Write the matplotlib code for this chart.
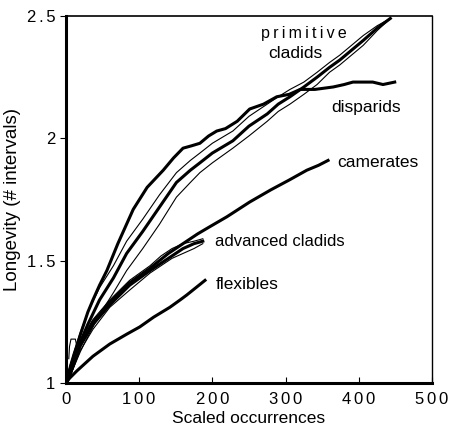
import matplotlib.pyplot as plt

plt.rcParams['font.family'] = ['Liberation Sans', 'DejaVu Sans']

# disparids
disp_x = [0, 5, 10, 20, 30, 37, 46, 56, 71, 92, 111, 133, 147, 160, 172, 183, 195, 206,
          218, 234, 251, 270, 288, 305, 320, 340, 365, 380, 392, 405, 419, 433, 449]
disp_y = [1.0, 1.05, 1.10, 1.20, 1.29, 1.34, 1.40, 1.46, 1.57, 1.71, 1.80, 1.87, 1.92,
          1.96, 1.97, 1.98, 2.01, 2.03, 2.04, 2.07, 2.12, 2.14, 2.17, 2.18, 2.20, 2.20,
          2.21, 2.22, 2.23, 2.23, 2.23, 2.22, 2.23]
# thin early envelope (small box near origin)
disp_env_x = [4, 5, 7, 13, 15, 18]
disp_env_y = [1.10, 1.15, 1.18, 1.18, 1.15, 1.14]

# primitive cladids, with envelope
prim_x = [0, 5, 10, 20, 30, 46, 65, 83, 105, 128, 151, 170, 183, 200, 228, 250, 275,
          290, 306, 325, 343, 360, 374, 390, 406, 425, 443]
prim_y = [1.0, 1.05, 1.09, 1.17, 1.24, 1.34, 1.43, 1.53, 1.62, 1.72, 1.82, 1.87, 1.90,
          1.94, 1.99, 2.05, 2.10, 2.14, 2.17, 2.21, 2.25, 2.29, 2.32, 2.36, 2.40, 2.45, 2.49]
prim_hi = [1.0, 1.07, 1.12, 1.21, 1.29, 1.39, 1.48, 1.58, 1.67, 1.77, 1.86, 1.91, 1.94,
           1.98, 2.03, 2.09, 2.14, 2.17, 2.20, 2.23, 2.27, 2.31, 2.34, 2.38, 2.42, 2.46, 2.49]
prim_lo = [1.0, 1.03, 1.06, 1.13, 1.19, 1.28, 1.37, 1.46, 1.55, 1.65, 1.76, 1.82, 1.86,
           1.90, 1.96, 2.01, 2.07, 2.11, 2.14, 2.18, 2.22, 2.27, 2.30, 2.34, 2.38, 2.44, 2.49]

# camerates
cam_x = [0, 5, 19, 37, 60, 87, 115, 140, 160, 180, 197, 220, 251, 280, 305, 329, 345, 358]
cam_y = [1.0, 1.03, 1.15, 1.25, 1.33, 1.41, 1.47, 1.53, 1.57, 1.61, 1.64, 1.68, 1.74,
         1.79, 1.83, 1.87, 1.89, 1.91]

# advanced cladids, with envelope
adv_x = [0, 5, 19, 37, 60, 87, 115, 130, 145, 160, 175, 187]
adv_y = [1.0, 1.03, 1.15, 1.24, 1.32, 1.40, 1.46, 1.49, 1.52, 1.55, 1.57, 1.58]
adv_hi = [1.0, 1.04, 1.17, 1.26, 1.34, 1.42, 1.48, 1.52, 1.55, 1.57, 1.58, 1.59]
adv_lo = [1.0, 1.02, 1.13, 1.22, 1.31, 1.38, 1.45, 1.48, 1.51, 1.53, 1.55, 1.57]

# flexibles
flex_x = [0, 5, 15, 37, 60, 83, 101, 120, 142, 156, 165, 190]
flex_y = [1.0, 1.02, 1.05, 1.11, 1.16, 1.20, 1.23, 1.27, 1.31, 1.34, 1.36, 1.42]

x_ticks = [0, 100, 200, 300, 400, 500]
y_ticks = [1, 1.5, 2, 2.5]

fig = plt.figure(figsize=(4.51, 4.32), dpi=100)
ax = fig.add_axes([0.146, 0.113, 0.812, 0.85])

thick = 2.2
thin = 0.8
ax.plot(prim_x, prim_hi, color='black', lw=thin)
ax.plot(prim_x, prim_lo, color='black', lw=thin)
ax.plot(prim_x, prim_y, color='black', lw=thick)
ax.plot(disp_env_x, disp_env_y, color='black', lw=thin)
ax.plot(disp_x, disp_y, color='black', lw=thick)
ax.plot(adv_x, adv_hi, color='black', lw=thin)
ax.plot(adv_x, adv_lo, color='black', lw=thin)
ax.plot(adv_x, adv_y, color='black', lw=thick)
ax.plot(cam_x, cam_y, color='black', lw=thick)
ax.plot(flex_x, flex_y, color='black', lw=thick)


def spaced(s, sep='\u2006'):
    # mimic the letter-spaced typesetting of the original
    return sep.join(s)


fs = 12.5
ax.text(325, 2.43, spaced('primitive', '\u2009'), fontsize=11.5, ha='center', va='center')
ax.text(314, 2.345, 'cladids', fontsize=fs, ha='center', va='center')
ax.text(363, 2.125, 'disparids', fontsize=fs, ha='left', va='center')
ax.text(370, 1.90, 'camerates', fontsize=fs, ha='left', va='center')
ax.text(204, 1.58, 'advanced cladids', fontsize=12, ha='left', va='center')
ax.text(204, 1.405, 'flexibles', fontsize=fs, ha='left', va='center')

ax.set_xlim(0, 500)
ax.set_ylim(1, 2.5)
ax.set_xticks(x_ticks)
ax.set_xticklabels([spaced(str(v)) for v in x_ticks])
ax.set_yticks(y_ticks)
ax.set_yticklabels([spaced(f'{v:g}') for v in y_ticks])
ax.tick_params(axis='x', direction='in', length=4, labelsize=12, pad=6)
ax.tick_params(axis='y', direction='out', length=4, labelsize=12)
ax.set_xlabel('Scaled occurrences', fontsize=12.5, labelpad=3)
ax.set_ylabel('Longevity (# intervals)', fontsize=13.5, labelpad=4)

ax.spines['left'].set_linewidth(2.2)
ax.spines['bottom'].set_linewidth(2.2)
ax.spines['top'].set_linewidth(1.2)
ax.spines['right'].set_linewidth(1.0)

fig.savefig('out.png', dpi=100)
